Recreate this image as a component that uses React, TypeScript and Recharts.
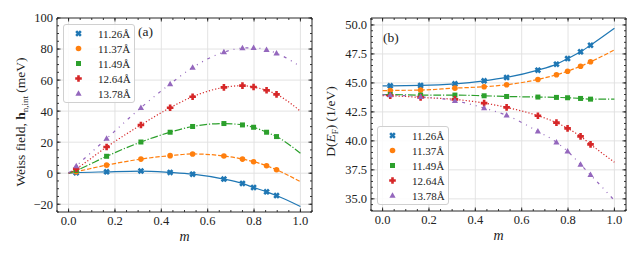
import { ComposedChart, Line, XAxis, YAxis, CartesianGrid, Legend, ReferenceLine } from 'recharts'

// m positions of the computed points (same in both panels)
const mPts = [0.033, 0.164, 0.312, 0.438, 0.535, 0.67, 0.75, 0.798, 0.854, 0.897]

const labels = ['11.26Å', '11.37Å', '11.49Å', '12.64Å', '13.78Å']
const colors = ['#1f77b4', '#ff7f0e', '#2ca02c', '#d62728', '#9467bd']
const shapes = ['x', 'o', 's', 'p', '^']
const dashes = [undefined, '4.4 1.9', '7.7 1.9 1.2 1.9', '1.2 2', '3 5 1 5 1 5']

// (a) Weiss field (meV)
const w1126 = [0.3, 0.9, 1.4, 0.5, -0.6, -3.8, -6.6, -9.2, -12.0, -14.4]
const w1137 = [1.0, 5.2, 9.1, 11.3, 12.4, 11.1, 9.1, 7.4, 4.8, 2.2]
const w1149 = [1.8, 10.9, 20.1, 26.4, 30.1, 32.0, 31.1, 29.6, 26.4, 23.6]
const w1264 = [2.9, 16.9, 31.1, 42.2, 49.3, 55.3, 56.4, 55.5, 53.4, 50.8]
const w1378 = [4.6, 22.3, 42.2, 57.5, 68.1, 78.0, 80.6, 80.8, 79.5, 77.3]
const wFitStart = [0, 0, 0, 0, 0]
const wFitEnd = [-21.5, -5.5, 12.8, 40.0, 68.7]

// (b) D(E_F) (1/eV)
const d1126 = [44.75, 44.78, 44.92, 45.18, 45.47, 46.1, 46.62, 47.1, 47.68, 48.25]
const d1137 = [44.35, 44.38, 44.55, 44.67, 44.84, 45.3, 45.7, 46.01, 46.44, 46.82]
const d1149 = [44.0, 43.95, 43.95, 43.89, 43.83, 43.78, 43.75, 43.72, 43.66, 43.6]
const d1264 = [43.89, 43.75, 43.58, 43.26, 42.89, 42.17, 41.57, 41.08, 40.39, 39.7]
const d1378 = [43.95, 43.81, 43.46, 42.83, 42.2, 40.82, 39.88, 39.1, 37.96, 37.07]
const dFitStart = [44.75, 44.33, 44.0, 43.9, 43.97]
const dFitEnd = [49.71, 47.85, 43.6, 38.16, 34.86]

const xTicks = [0, 0.2, 0.4, 0.6, 0.8, 1.0]
const wTicks = [-20, 0, 20, 40, 60, 80, 100]
const dTicks = [35, 37.5, 40, 42.5, 45, 47.5, 50]

const X_DOMAIN = [-0.05, 1.05]

const range = (a: number, b: number, step: number) => {
  const out: number[] = []
  for (let v = a; v <= b + 1e-9; v += step) out.push(Math.round(v * 1000) / 1000)
  return out
}

const FONT = '"Liberation Serif", "DejaVu Serif", serif'
const INK = '#222'

function Marker({ kind, cx, cy, color }: any) {
  if (cx == null || cy == null) return null
  if (kind === 'o') return <circle cx={cx} cy={cy} r={2.8} fill={color} />
  if (kind === 's') return <rect x={cx - 2.5} y={cy - 2.5} width={5} height={5} fill={color} />
  if (kind === '^')
    return <polygon points={`${cx},${cy - 3.3} ${cx + 3.1},${cy + 2.2} ${cx - 3.1},${cy + 2.2}`} fill={color} />
  const a = 3.3
  const b = 1.3
  const pts = [[-b, -a], [b, -a], [b, -b], [a, -b], [a, b], [b, b], [b, a], [-b, a], [-b, b], [-a, b], [-a, -b], [-b, -b]]
  const rot = kind === 'x' ? 45 : 0
  return (
    <polygon
      points={pts.map(p => `${cx + p[0]},${cy + p[1]}`).join(' ')}
      transform={`rotate(${rot} ${cx} ${cy})`}
      fill={color}
    />
  )
}

function LegendBox({ width, height }: any) {
  return (
    <div
      style={{
        width,
        height,
        boxSizing: 'border-box',
        border: '1px solid #d0d0d0',
        borderRadius: 3,
        background: 'rgba(255,255,255,0.85)',
        paddingTop: 1,
        fontFamily: FONT,
        fontSize: 11,
        color: INK
      }}
    >
      {labels.map((l, i) => (
        <div key={l} style={{ height: 15, display: 'flex', alignItems: 'center' }}>
          <svg width={30} height={15} style={{ display: 'block' }}>
            <Marker kind={shapes[i]} cx={14.5} cy={7.5} color={colors[i]} />
          </svg>
          <span style={{ marginLeft: 4 }}>{l}</span>
        </div>
      ))}
    </div>
  )
}

// black frame with inward major / minor ticks on all four sides
function frame(yDomain: number[], yMajor: number[], yMinor: number[], plotW: number, plotH: number) {
  const [x0, x1] = X_DOMAIN
  const [y0, y1] = yDomain
  const px = (x1 - x0) / plotW
  const py = (y1 - y0) / plotH
  const xMinor = range(-0.05, 1.05, 0.05)
  const seg = (key: string, a: any, b: any) => (
    <ReferenceLine key={key} xAxisId="x" yAxisId="y" segment={[a, b]} stroke={INK} strokeWidth={0.9} ifOverflow="visible" />
  )
  const out: any[] = []
  xTicks.forEach(t => {
    out.push(seg('xb' + t, { x: t, y: y0 }, { x: t, y: y0 + 3.5 * py }))
    out.push(seg('xt' + t, { x: t, y: y1 }, { x: t, y: y1 - 3.5 * py }))
  })
  xMinor.forEach(t => {
    out.push(seg('xbm' + t, { x: t, y: y0 }, { x: t, y: y0 + 2 * py }))
    out.push(seg('xtm' + t, { x: t, y: y1 }, { x: t, y: y1 - 2 * py }))
  })
  yMajor.forEach(t => {
    out.push(seg('yl' + t, { x: x0, y: t }, { x: x0 + 3.5 * px, y: t }))
    out.push(seg('yr' + t, { x: x1, y: t }, { x: x1 - 3.5 * px, y: t }))
  })
  yMinor.forEach(t => {
    out.push(seg('ylm' + t, { x: x0, y: t }, { x: x0 + 2 * px, y: t }))
    out.push(seg('yrm' + t, { x: x1, y: t }, { x: x1 - 2 * px, y: t }))
  })
  out.push(seg('fb', { x: x0, y: y0 }, { x: x1, y: y0 }))
  out.push(seg('ft', { x: x0, y: y1 }, { x: x1, y: y1 }))
  out.push(seg('fl', { x: x0, y: y0 }, { x: x0, y: y1 }))
  out.push(seg('fr', { x: x1, y: y0 }, { x: x1, y: y1 }))
  return out
}

function Panel(props: any) {
  const { series, fitStart, fitEnd, yDomain, yMajor, yMinor, yFmt, yWidth, margin, title, titleX, legendPos, tag, tagPos } = props

  const plotW = 320 - margin.left - margin.right - yWidth
  const plotH = 256 - margin.top - margin.bottom - 25

  const fitRows = (i: number) => [
    { m: 0, v: fitStart[i] },
    ...mPts.map((m, k) => ({ m, v: series[i][k] })),
    { m: 1, v: fitEnd[i] }
  ]
  const ptRows = (i: number) => mPts.map((m, k) => ({ m, v: series[i][k] }))

  const tickStyle = { fontSize: 12.5, fill: INK, style: { fontFamily: FONT } }

  return (
    <div style={{ position: 'relative', width: 320, height: 256, fontFamily: FONT }}>
      <ComposedChart width={320} height={256} margin={margin} style={{ fontFamily: FONT }}>
        <CartesianGrid xAxisId="x" yAxisId="y" stroke="#e0e0e0" strokeWidth={0.9} />
        <XAxis
          xAxisId="x"
          dataKey="m"
          type="number"
          domain={X_DOMAIN}
          allowDataOverflow
          ticks={xTicks}
          interval={0}
          tickFormatter={(v: number) => v.toFixed(1)}
          axisLine={false}
          tickLine={false}
          tickSize={0}
          tickMargin={4}
          height={25}
          tick={tickStyle}
          label={{ value: 'm', position: 'bottom', offset: -6, style: { fontFamily: FONT, fontStyle: 'italic', fontSize: 14, fill: INK } }}
        />
        <YAxis
          yAxisId="y"
          type="number"
          domain={yDomain}
          allowDataOverflow
          ticks={yMajor}
          interval={0}
          tickFormatter={yFmt}
          axisLine={false}
          tickLine={false}
          tickSize={0}
          tickMargin={4}
          width={yWidth}
          tick={tickStyle}
          label={{
            content: ({ viewBox }: any) => {
              const cy = viewBox.y + viewBox.height / 2 + 7
              return (
                <text
                  x={titleX}
                  y={cy}
                  transform={`rotate(-90 ${titleX} ${cy})`}
                  textAnchor="middle"
                  style={{ fontFamily: FONT, fontSize: 13.5, fill: INK }}
                >
                  {title}
                </text>
              )
            }
          }}
        />
        {labels.map((l, i) => (
          <Line
            key={'fit' + l}
            xAxisId="x"
            yAxisId="y"
            data={fitRows(i)}
            dataKey="v"
            type="monotone"
            stroke={colors[i]}
            strokeWidth={1.2}
            strokeDasharray={dashes[i]}
            dot={false}
            activeDot={false}
            legendType="none"
            isAnimationActive={false}
          />
        ))}
        {labels.map((l, i) => (
          <Line
            key={'pt' + l}
            xAxisId="x"
            yAxisId="y"
            data={ptRows(i)}
            dataKey="v"
            stroke="none"
            dot={(p: any) => <Marker key={p.index} kind={shapes[i]} cx={p.cx} cy={p.cy} color={colors[i]} />}
            activeDot={false}
            legendType="none"
            isAnimationActive={false}
          />
        ))}
        {frame(yDomain, yMajor, yMinor, plotW, plotH)}
        <Legend
          layout="vertical"
          align="center"
          verticalAlign="middle"
          wrapperStyle={{ left: legendPos[0], top: legendPos[1], width: 72, height: 79 }}
          content={() => <LegendBox width={72} height={79} />}
        />
      </ComposedChart>
      <div
        style={{
          position: 'absolute',
          left: tagPos[0],
          top: tagPos[1],
          fontFamily: FONT,
          fontSize: 13.5,
          color: INK,
          lineHeight: '14px'
        }}
      >
        {tag}
      </div>
    </div>
  )
}

export default function App() {
  const weissTitle = (
    <>
      Weiss field,{' '}
      <tspan fontWeight="bold">h</tspan>
      <tspan dy={3} fontSize={9}>
        n,int
      </tspan>
      <tspan dy={-3}> (meV)</tspan>
    </>
  )
  const dosTitle = (
    <>
      D(
      <tspan fontStyle="italic">E</tspan>
      <tspan dy={3} fontSize={9}>
        F
      </tspan>
      <tspan dy={-3}>) (1/eV)</tspan>
    </>
  )

  return (
    <div style={{ position: 'absolute', left: 0, top: 0, width: 640, height: 256, background: '#fff', display: 'flex' }}>
      <Panel
        series={[w1126, w1137, w1149, w1264, w1378]}
        fitStart={wFitStart}
        fitEnd={wFitEnd}
        yDomain={[-25, 100]}
        yMajor={wTicks}
        yMinor={range(-25, 100, 5)}
        yFmt={(v: number) => (v < 0 ? '\u2212' + Math.abs(v) : String(v))}
        yWidth={40}
        margin={{ top: 18, right: 8, bottom: 19, left: 17 }}
        title={weissTitle}
        titleX={25}
        legendPos={[63, 24]}
        tag="(a)"
        tagPos={[138, 25]}
      />
      <Panel
        series={[d1126, d1137, d1149, d1264, d1378]}
        fitStart={dFitStart}
        fitEnd={dFitEnd}
        yDomain={[33.95, 50.6]}
        yMajor={dTicks}
        yMinor={range(34, 50.5, 0.5)}
        yFmt={(v: number) => v.toFixed(1)}
        yWidth={36}
        margin={{ top: 18, right: 14, bottom: 20, left: 15 }}
        title={dosTitle}
        titleX={15}
        legendPos={[57, 126]}
        tag="(b)"
        tagPos={[63, 31]}
      />
    </div>
  )
}
